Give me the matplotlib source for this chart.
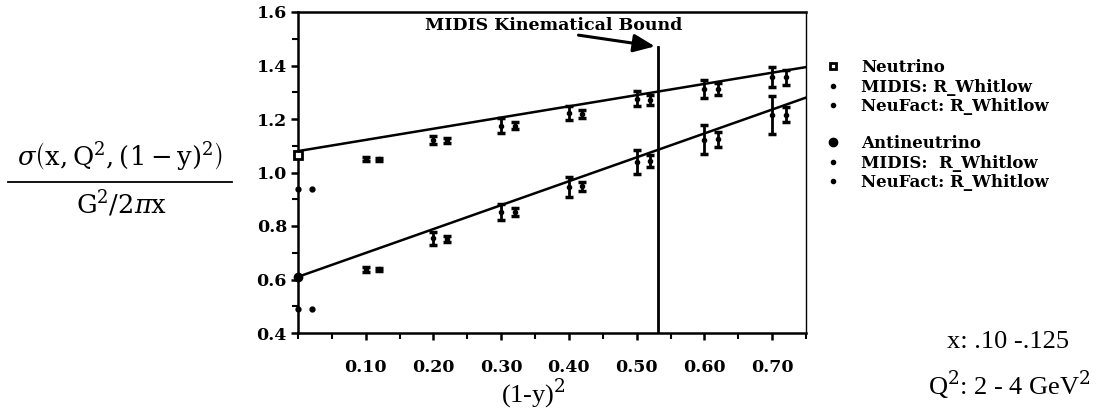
import matplotlib
matplotlib.use("Agg")
import matplotlib.pyplot as plt
from matplotlib.lines import Line2D
from matplotlib.ticker import MultipleLocator, FixedLocator

# --- data ------------------------------------------------------------------
# neutrino, MIDIS (R_Whitlow) points
nu_midis_x = [0.10, 0.20, 0.30, 0.40, 0.50, 0.60, 0.70]
nu_midis_y = [1.05, 1.12, 1.175, 1.222, 1.275, 1.311, 1.356]
nu_midis_err = [0.008, 0.015, 0.027, 0.025, 0.028, 0.034, 0.037]
# neutrino, NeuFact (R_Whitlow) points, shifted by +0.02
nu_neuf_x = [0.12, 0.22, 0.32, 0.42, 0.52, 0.62, 0.72]
nu_neuf_y = [1.05, 1.12, 1.175, 1.217, 1.27, 1.311, 1.356]
nu_neuf_err = [0.006, 0.008, 0.012, 0.015, 0.019, 0.022, 0.028]

# antineutrino, MIDIS points
anu_midis_x = [0.10, 0.20, 0.30, 0.40, 0.50, 0.60, 0.70]
anu_midis_y = [0.638, 0.754, 0.851, 0.947, 1.04, 1.122, 1.215]
anu_midis_err = [0.01, 0.025, 0.03, 0.037, 0.044, 0.054, 0.07]
# antineutrino, NeuFact points
anu_neuf_x = [0.12, 0.22, 0.32, 0.42, 0.52, 0.62, 0.72]
anu_neuf_y = [0.638, 0.752, 0.853, 0.948, 1.043, 1.125, 1.215]
anu_neuf_err = [0.006, 0.01, 0.014, 0.016, 0.022, 0.028, 0.028]

# points at (1-y)^2 = 0 and 0.02
nu_zero_x, nu_zero_y = [0.0], [1.065]
anu_zero_x, anu_zero_y = [0.0], [0.61]
nu_low_x, nu_low_y = [0.0, 0.021], [0.938, 0.938]
anu_low_x, anu_low_y = [0.0, 0.021], [0.49, 0.49]

# straight-line fits (end points)
nu_fit_x, nu_fit_y = [0.0, 0.75], [1.08, 1.394]
anu_fit_x, anu_fit_y = [0.0, 0.75], [0.61, 1.28]

bound_x = 0.531
bound_top = 1.47

x_ticks = [0.10, 0.20, 0.30, 0.40, 0.50, 0.60, 0.70]
x_tick_labels = ["0.10", "0.20", "0.30", "0.40", "0.50", "0.60", "0.70"]
y_ticks = [0.4, 0.6, 0.8, 1.0, 1.2, 1.4, 1.6]
y_tick_labels = ["0.4", "0.6", "0.8", "1.0", "1.2", "1.4", "1.6"]

# --- figure --------------------------------------------------------------
plt.rcParams["mathtext.fontset"] = "dejavuserif"
BOLD = dict(family="DejaVu Serif", weight="bold")
ROMAN = dict(family="Liberation Serif")

fig = plt.figure(figsize=(11.18, 4.09), dpi=100)
ax = fig.add_axes([298 / 1118, 1 - 333 / 409, (806 - 298) / 1118, (333 - 12) / 409])

ax.set_xlim(0, 0.75)
ax.set_ylim(0.4, 1.6)

eb_kw = dict(fmt="o", color="black", ms=3, elinewidth=2, capsize=3, capthick=2.5, clip_on=False)
ax.errorbar(nu_midis_x, nu_midis_y, yerr=nu_midis_err, **eb_kw)
ax.errorbar(nu_neuf_x, nu_neuf_y, yerr=nu_neuf_err, **eb_kw)
ax.errorbar(anu_midis_x, anu_midis_y, yerr=anu_midis_err, **eb_kw)
ax.errorbar(anu_neuf_x, anu_neuf_y, yerr=anu_neuf_err, **eb_kw)

ax.plot(nu_zero_x, nu_zero_y, "s", ms=6, mfc="white", mec="black", mew=2, clip_on=False, zorder=5)
ax.plot(anu_zero_x, anu_zero_y, "o", ms=6, color="black", clip_on=False, zorder=5)
ax.plot(nu_low_x, nu_low_y, "o", ms=3.5, color="black", clip_on=False, zorder=5)
ax.plot(anu_low_x, anu_low_y, "o", ms=3.5, color="black", clip_on=False, zorder=5)

ax.plot(nu_fit_x, nu_fit_y, color="black", lw=1.8)
ax.plot(anu_fit_x, anu_fit_y, color="black", lw=1.8)

# kinematical bound
ax.plot([bound_x, bound_x], [0.4, bound_top], color="black", lw=2)
ax.annotate("", xy=(bound_x, bound_top), xytext=(0.41, 1.515),
            arrowprops=dict(arrowstyle="-|>,head_length=1.3,head_width=0.55",
                            color="black", lw=2.2))
ax.text(0.377, 1.548, "MIDIS Kinematical Bound", ha="center", va="center",
        fontsize=12.5, **BOLD)

# axes styling
for side in ["top", "right", "left", "bottom"]:
    ax.spines[side].set_linewidth(1.8)
ax.spines["right"].set_linewidth(1.0)
ax.xaxis.set_major_locator(FixedLocator(x_ticks))
ax.set_xticklabels(x_tick_labels)
ax.xaxis.set_minor_locator(MultipleLocator(0.05))
ax.yaxis.set_major_locator(FixedLocator(y_ticks))
ax.set_yticklabels(y_tick_labels)
ax.yaxis.set_minor_locator(MultipleLocator(0.1))
ax.tick_params(which="major", direction="out", length=5, width=1.8)
ax.tick_params(which="minor", direction="out", length=4, width=1.5)
ax.tick_params(axis="x", pad=14)
ax.tick_params(axis="y", pad=3)
for lab in ax.get_xticklabels() + ax.get_yticklabels():
    lab.set_fontfamily("DejaVu Serif")
    lab.set_fontweight("bold")
    lab.set_fontsize(12.5)

# axis labels
fig.text(533 / 1118, 1 - 394 / 409, r"(1-y)$^2$", ha="center", va="center",
         fontsize=19, **ROMAN)
fig.text(120 / 1118, 1 - 157 / 409,
         r"$\sigma\left(\mathrm{x,Q^2,(1-y)^2}\right)$",
         ha="center", va="center", fontsize=18.5)
fig.add_artist(Line2D([8 / 1118, 232 / 1118], [1 - 182 / 409, 1 - 182 / 409],
                      color="black", lw=1.3))
fig.text(122 / 1118, 1 - 205 / 409, r"$\mathrm{G^2/2}\pi\mathrm{x}$",
         ha="center", va="center", fontsize=18.5)

# run info
fig.text(1008 / 1118, 1 - 342 / 409, "x: .10 -.125", ha="center", va="center",
         fontsize=19, **ROMAN)
fig.text(1009 / 1118, 1 - 386 / 409, r"Q$^2$: 2 - 4 GeV$^2$", ha="center",
         va="center", fontsize=19, **ROMAN)

# legend (two groups)
nu_handles = [
    Line2D([], [], ls="", marker="s", ms=5, mfc="white", mec="black", mew=2),
    Line2D([], [], ls="", marker="o", ms=3, color="black"),
    Line2D([], [], ls="", marker="o", ms=3, color="black"),
]
nu_labels = ["Neutrino", "MIDIS: R_Whitlow", "NeuFact: R_Whitlow"]
anu_handles = [
    Line2D([], [], ls="", marker="o", ms=6, color="black"),
    Line2D([], [], ls="", marker="o", ms=3, color="black"),
    Line2D([], [], ls="", marker="o", ms=3, color="black"),
]
anu_labels = ["Antineutrino", "MIDIS:  R_Whitlow", "NeuFact: R_Whitlow"]
leg_kw = dict(frameon=False, handlelength=1.0, handletextpad=1.2, labelspacing=0.15,
              borderpad=0, prop=dict(family="DejaVu Serif", weight="bold", size=12))
fig.legend(nu_handles, nu_labels, loc="upper left",
           bbox_to_anchor=(816 / 1118, 1 - 51 / 409), **leg_kw)
fig.legend(anu_handles, anu_labels, loc="upper left",
           bbox_to_anchor=(816 / 1118, 1 - 127 / 409), **leg_kw)

fig.savefig("out.png", dpi=100)
